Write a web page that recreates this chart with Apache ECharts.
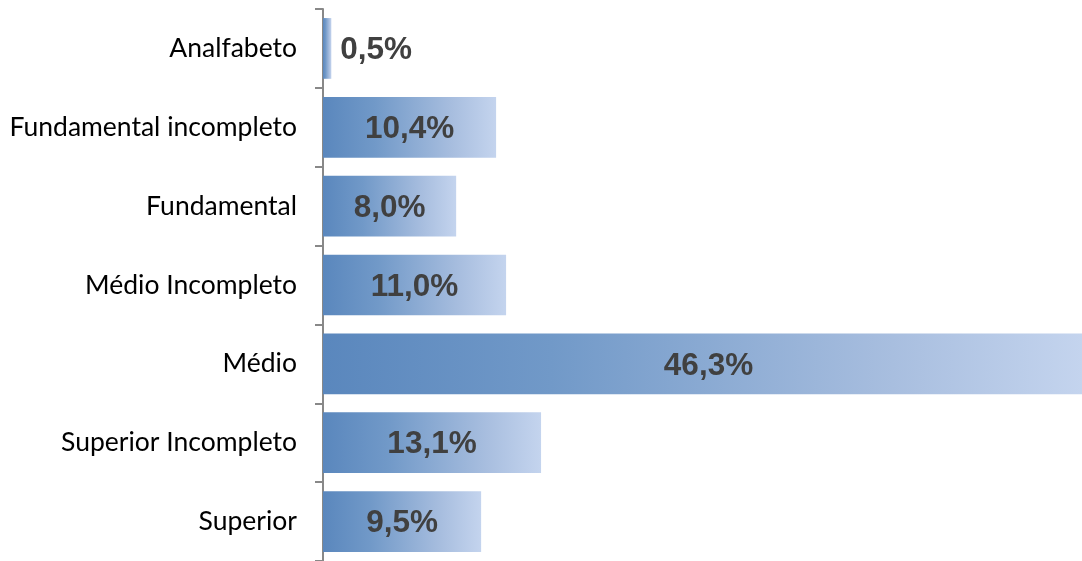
<!DOCTYPE html>
<html>
<head>
<meta charset="utf-8">
<script src="https://cdn.jsdelivr.net/npm/echarts@6/dist/echarts.min.js"></script>
<style>
  html, body { margin: 0; padding: 0; background: #ffffff; overflow: hidden; }
  #chart { width: 1082px; height: 561px; }
</style>
</head>
<body>
<div id="chart"></div>
<script>
// Escolaridade: distribuição percentual
const categories = [
  'Analfabeto',
  'Fundamental incompleto',
  'Fundamental',
  'Médio Incompleto',
  'Médio',
  'Superior Incompleto',
  'Superior'
];
const values = [0.5, 10.4, 8.0, 11.0, 46.3, 13.1, 9.5];

const chart = echarts.init(document.getElementById('chart'), null, { renderer: 'canvas' });

const barGradient = new echarts.graphic.LinearGradient(0, 0, 1, 0, [
  { offset: 0, color: '#5a87bd' },
  { offset: 0.3, color: '#7199c8' },
  { offset: 0.75, color: '#a8bedf' },
  { offset: 1, color: '#c4d4ee' }
]);

const fmt = v => v.toFixed(1).replace('.', ',') + '%';
const AXIS_MAX = 45.6;

// per-bar label placement: tiny bars get the label outside, the clipped bar
// keeps its label centred on the full (unclipped) length
function labelFor(v) {
  if (v < 2) return { position: 'right', distance: 9 };
  if (v > AXIS_MAX) return { offset: [6, 2] };
  return {};
}

chart.setOption({
  animation: false,
  grid: { left: 323, right: 0, top: 9, height: 553, containLabel: false },
  // axis stops a little short of the largest value, so that bar is cut at the edge
  xAxis: {
    type: 'value',
    min: 0,
    max: AXIS_MAX,
    show: false
  },
  yAxis: {
    type: 'category',
    data: categories,
    inverse: true,
    axisLine: { show: true, lineStyle: { color: '#888888', width: 2 } },
    axisTick: { show: true, length: 8, lineStyle: { color: '#888888', width: 2 } },
    axisLabel: {
      color: '#000000',
      fontFamily: 'Lato, "Open Sans", sans-serif',
      fontSize: 26.5,
      margin: 26
    },
    splitLine: { show: false }
  },
  series: [{
    type: 'bar',
    clip: true,
    barCategoryGap: '23%',
    data: values.map(v => ({ value: v, label: labelFor(v) })),
    itemStyle: { color: barGradient },
    label: {
      show: true,
      position: 'inside',
      offset: [0, 2],
      formatter: p => fmt(p.value),
      color: '#404040',
      fontFamily: '"Liberation Sans", Arial, sans-serif',
      fontWeight: 'bold',
      fontSize: 31.5
    }
  }]
});
</script>
</body>
</html>
